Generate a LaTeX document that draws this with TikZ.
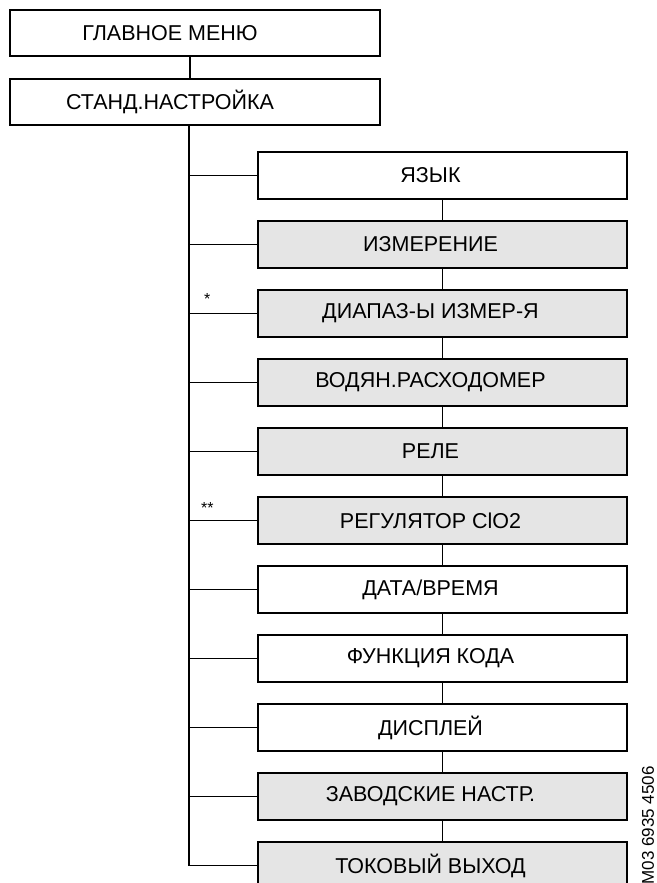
\documentclass[tikz,border=0pt]{standalone}
\usepackage{fontspec}
\setmainfont{Liberation Sans}
\usepackage{xcolor}
\usetikzlibrary{positioning}
\definecolor{boxgray}{gray}{0.9}
\tikzset{
  boxbase/.style={
    rectangle, draw=black, line width=1.8pt, fill=white,
    minimum width=370pt, minimum height=46pt, inner sep=0pt, outer sep=0pt,
    font=\fontsize{21.5}{25}\selectfont
  },
  menubox/.style={boxbase, execute at begin node={\hspace*{-50pt}}},
  itembox/.style={boxbase, minimum width=369pt, minimum height=47pt,
    execute at begin node={\hspace*{-24pt}}},
  shadedbox/.style={itembox, fill=boxgray},
  treeline/.style={line width=1.5pt, draw=black},
  starnote/.style={font=\fontsize{16}{18}\selectfont, inner sep=1pt, anchor=south west},
}

\begin{document}
\begin{tikzpicture}
  \useasboundingbox (0,0) rectangle (656pt,-883pt);
  \node (main) [menubox] at (195pt,-33pt) {ГЛАВНОЕ МЕНЮ};
  \node (setup) [menubox, below=23pt of main] {СТАНД.НАСТРОЙКА};
  \node (lang) [itembox, below=27pt of setup, xshift=247.5pt] {ЯЗЫК};
  \node (meas) [shadedbox, below=22pt of lang] {ИЗМЕРЕНИЕ};
  \node (range) [shadedbox, below=22pt of meas] {ДИАПАЗ-Ы ИЗМЕР-Я};
  \node (flow) [shadedbox, below=22pt of range] {ВОДЯН.РАСХОДОМЕР};
  \node (relay) [shadedbox, below=22pt of flow] {РЕЛЕ};
  \node (ctrl) [shadedbox, below=22pt of relay] {РЕГУЛЯТОР ClO2};
  \node (clock) [itembox, below=22pt of ctrl] {ДАТА/ВРЕМЯ};
  \node (code) [itembox, below=22pt of clock] {ФУНКЦИЯ КОДА};
  \node (disp) [itembox, below=22pt of code] {ДИСПЛЕЙ};
  \node (factory) [shadedbox, below=22pt of disp] {ЗАВОДСКИЕ НАСТР.};
  \node (curout) [shadedbox, below=22pt of factory] {ТОКОВЫЙ ВЫХОД};

  \draw[treeline] ([xshift=-5pt]main.south) -- ([xshift=-5pt]setup.north);
  \coordinate (trunk) at ([xshift=-6pt]setup.south);
  \draw[treeline] (trunk) |- (curout.west);
  \foreach \n in {lang,meas,range,flow,relay,ctrl,clock,code,disp,factory}
    \draw[treeline] (\n.west -| trunk) -- (\n.west);
  \foreach \a/\b in {lang/meas,meas/range,range/flow,flow/relay,relay/ctrl,ctrl/clock,clock/code,code/disp,disp/factory,factory/curout}
    \draw[treeline] (\a) -- (\b);

  \node (star1) [starnote, xshift=14pt, yshift=8pt] at (range.west -| trunk) {*};
  \node (star2) [starnote, xshift=11pt, yshift=6pt] at (ctrl.west -| trunk) {**};
  \node (figref) [rotate=90, anchor=east, font=\fontsize{17}{20}\selectfont, inner sep=0pt] at (648pt,-766pt) {TM03 6935 4506};
\end{tikzpicture}
\end{document}
